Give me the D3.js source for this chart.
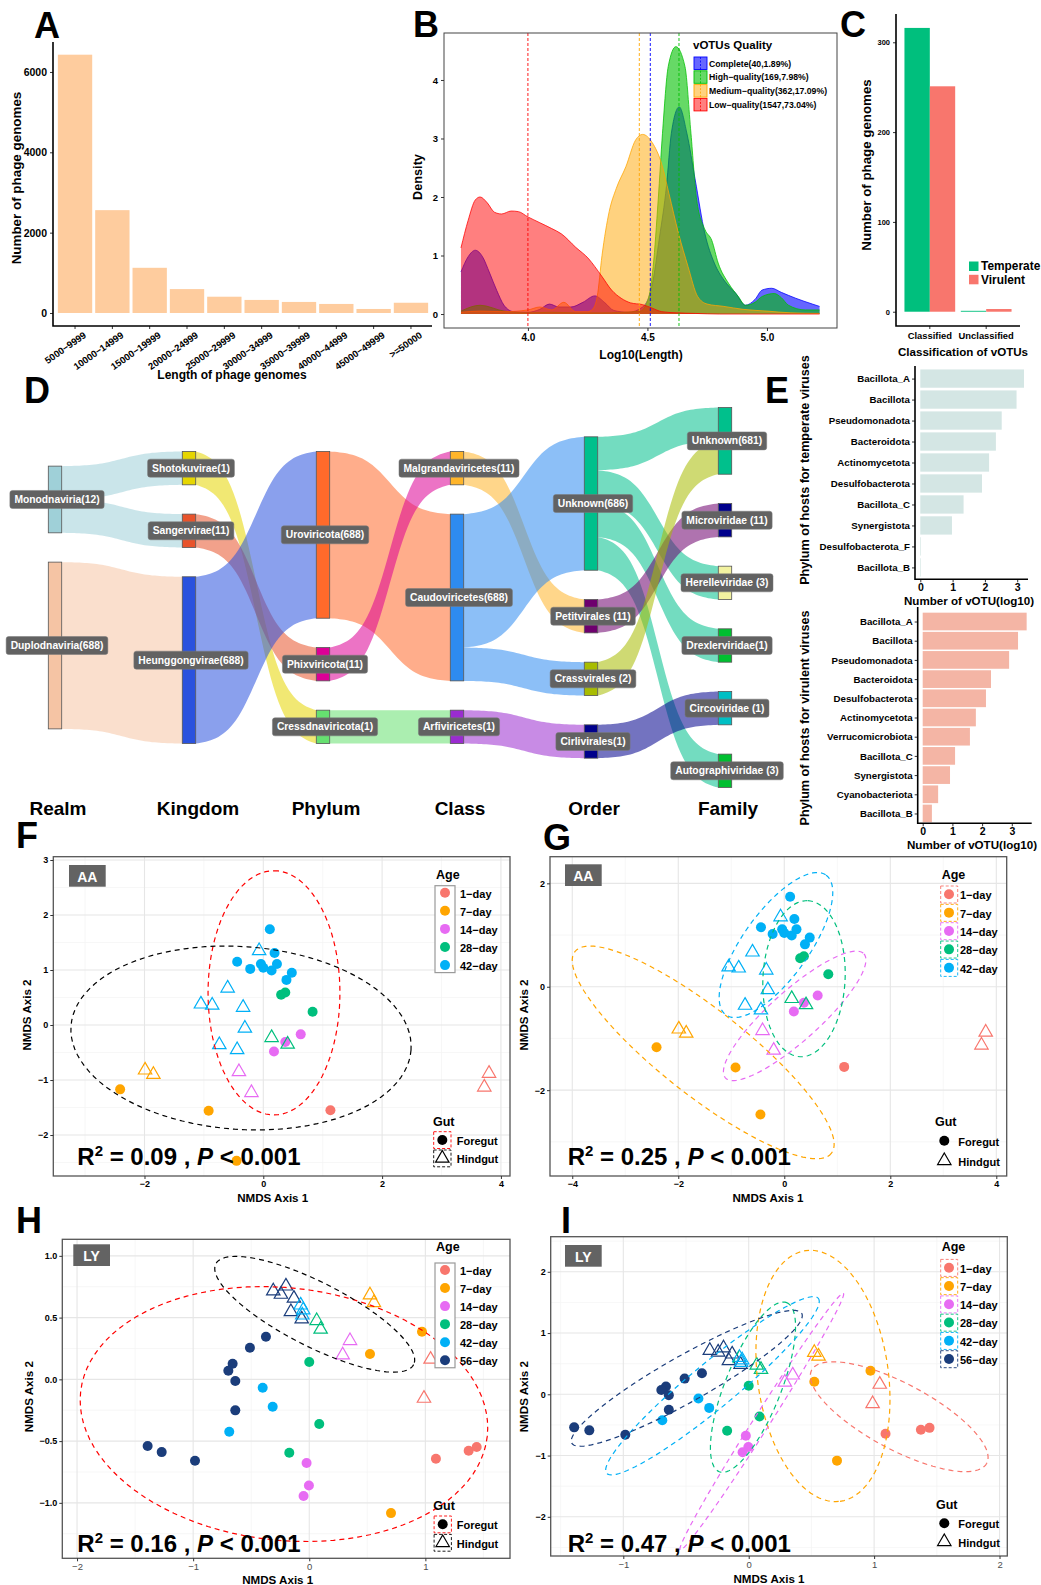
<!DOCTYPE html>
<html>
<head>
<meta charset="utf-8">
<script src="https://cdn.jsdelivr.net/npm/d3@7/dist/d3.min.js"></script>
<style>
html, body { margin: 0; padding: 0; background: #fff; }
svg text { font-family: "Liberation Sans", Arial, Helvetica, sans-serif; }
</style>
</head>
<body>
<svg id="fig" width="1041" height="1585" viewBox="0 0 1041 1585"></svg>
<script>
// ================= DATA =================
const MINUS = "\u2212";

// A: genome length distribution
const lengthBins = ["5000" + MINUS + "9999", "10000" + MINUS + "14999", "15000" + MINUS + "19999", "20000" + MINUS + "24999",
  "25000" + MINUS + "29999", "30000" + MINUS + "34999", "35000" + MINUS + "39999", "40000" + MINUS + "44999",
  "45000" + MINUS + "49999", ">=50000"];
const genomeCounts = [6430, 2560, 1125, 595, 405, 325, 275, 225, 100, 255];
const countTicks = [0, 2000, 4000, 6000];

// B: density of log10(length) by vOTU quality  [log10 length, density]
const qualityClasses = ["Complete(40,1.89%)", "High" + MINUS + "quality(169,7.98%)",
  "Medium" + MINUS + "quality(362,17.09%)", "Low" + MINUS + "quality(1547,73.04%)"];
const completeDensity = [[3.72,0.72],[3.75,0.98],[3.78,1.09],[3.81,0.98],[3.84,0.70],[3.87,0.40],[3.90,0.15],[3.94,0.04],
  [4.00,0.03],[4.05,0.08],[4.09,0.17],[4.13,0.12],[4.18,0.12],[4.23,0.20],[4.28,0.31],[4.32,0.20],[4.36,0.06],[4.42,0.03],
  [4.48,0.12],[4.52,0.50],[4.55,1.30],[4.58,2.20],[4.60,3.09],[4.633,3.54],[4.665,3.09],[4.70,2.29],[4.74,1.38],[4.78,0.87],
  [4.82,0.58],[4.87,0.35],[4.91,0.15],[4.95,0.25],[4.98,0.41],[5.02,0.44],[5.06,0.37],[5.12,0.27],[5.19,0.17],[5.22,0.13]];
const highDensity = [[3.72,0.05],[3.80,0.15],[3.90,0.05],[4.00,0.02],[4.10,0.03],[4.20,0.02],[4.30,0.02],[4.40,0.03],
  [4.47,0.05],[4.503,0.25],[4.524,0.81],[4.545,1.95],[4.563,3.09],[4.587,4.23],[4.619,4.57],[4.657,4.23],[4.682,3.09],
  [4.706,1.95],[4.741,1.44],[4.769,1.26],[4.796,0.87],[4.84,0.52],[4.88,0.30],[4.91,0.15],[4.95,0.20],[4.98,0.30],
  [5.03,0.35],[5.06,0.28],[5.09,0.15],[5.16,0.07],[5.22,0.07]];
const mediumDensity = [[3.72,0.03],[3.80,0.05],[3.90,0.04],[4.00,0.07],[4.05,0.12],[4.10,0.07],[4.15,0.20],[4.20,0.04],
  [4.25,0.04],[4.27,0.08],[4.29,0.30],[4.31,1.00],[4.34,1.75],[4.37,2.15],[4.41,2.52],[4.45,2.97],[4.48,3.07],[4.52,2.93],
  [4.56,2.56],[4.59,2.06],[4.63,1.38],[4.67,0.81],[4.71,0.30],[4.75,0.17],[4.82,0.13],[4.90,0.08],[5.00,0.05],[5.10,0.02],[5.22,0.01]];
const lowDensity = [[3.72,1.13],[3.75,1.60],[3.78,1.95],[3.80,2.00],[3.83,1.90],[3.86,1.74],[3.89,1.71],[3.93,1.76],
  [3.96,1.75],[4.00,1.66],[4.05,1.56],[4.10,1.46],[4.14,1.37],[4.20,1.14],[4.255,0.94],[4.28,0.81],[4.31,0.64],[4.35,0.41],
  [4.39,0.27],[4.43,0.19],[4.48,0.16],[4.52,0.10],[4.56,0.04],[4.62,0.02],[4.70,0.01],[4.80,0.0],[5.22,0.0]];
const qualityMeanLength = [4.512, 4.632, 4.466, 4.0];
const densityTicks = [0, 1, 2, 3, 4];
const lengthTicks = [4.0, 4.5, 5.0];

// C: lifestyle by classification
const classGroups = ["Classified", "Unclassified"];
const lifestyles = ["Temperate", "Virulent"];
const temperateCounts = [316, 1];
const virulentCounts = [251, 3];
const lifestyleTicks = [0, 100, 200, 300];

// D: taxonomy flows (Realm -> Family)
const sankeyStages = ["Realm", "Kingdom", "Phylum", "Class", "Order", "Family"];
const realmNodes = ["Monodnaviria(12)", "Duplodnaviria(688)"];
const kingdomNodes = ["Shotokuvirae(1)", "Sangervirae(11)", "Heunggongvirae(688)"];
const phylumNodes = ["Uroviricota(688)", "Phixviricota(11)", "Cressdnaviricota(1)"];
const classNodes = ["Malgrandaviricetes(11)", "Caudoviricetes(688)", "Arfiviricetes(1)"];
const orderNodes = ["Unknown(686)", "Petitvirales (11)", "Crassvirales (2)", "Cirlivirales(1)"];
const familyNodes = ["Unknown(681)", "Microviridae (11)", "Herelleviridae (3)", "Drexlerviridae(1)", "Circoviridae (1)", "Autographiviridae (3)"];
// each distinct lineage: node index at every rank
const lineages = [
  [1, 2, 0, 1, 0, 0],
  [1, 2, 0, 1, 0, 2],
  [1, 2, 0, 1, 0, 3],
  [1, 2, 0, 1, 0, 5],
  [1, 2, 0, 1, 2, 0],
  [0, 1, 1, 0, 1, 1],
  [0, 0, 2, 2, 3, 4]
];

// E: host phyla (log10 number of vOTUs)
const temperateHosts = ["Bacillota_A", "Bacillota", "Pseudomonadota", "Bacteroidota", "Actinomycetota", "Desulfobacterota",
  "Bacillota_C", "Synergistota", "Desulfobacterota_F", "Bacillota_B"];
const temperateLog10 = [3.21, 2.98, 2.52, 2.34, 2.13, 1.91, 1.34, 0.98, 0.02, 0.02];
const virulentHosts = ["Bacillota_A", "Bacillota", "Pseudomonadota", "Bacteroidota", "Desulfobacterota", "Actinomycetota",
  "Verrucomicrobiota", "Bacillota_C", "Synergistota", "Cyanobacteriota", "Bacillota_B"];
const virulentLog10 = [3.50, 3.21, 2.91, 2.30, 2.13, 1.79, 1.59, 1.09, 0.92, 0.52, 0.31];
const log10Ticks = [0, 1, 2, 3];

// F-I: NMDS ordinations  [age in days, NMDS1, NMDS2]
const aaAges = [1, 7, 14, 28, 42];
const lyAges = [1, 7, 14, 28, 42, 56];
const aaForegut = [
  [42,0.11,1.74],[42,0.19,1.31],[42,-0.44,1.15],[42,-0.22,1.02],[42,-0.04,1.11],[42,0.00,1.04],[42,0.14,0.99],[42,0.23,1.11],
  [42,0.48,0.95],[42,0.39,0.82],[28,0.30,0.55],[28,0.37,0.59],[28,0.83,0.24],[14,0.63,-0.17],[14,0.37,-0.31],[14,0.18,-0.48],
  [1,1.13,-1.55],[7,-2.41,-1.17],[7,-0.92,-1.56],[7,-0.45,-2.47]
];
const aaHindgut = [
  [42,-0.07,1.35],[42,-0.60,0.67],[42,-1.05,0.38],[42,-0.86,0.36],[42,-0.34,0.32],[42,-0.31,-0.06],[42,-0.74,-0.36],[42,-0.44,-0.45],
  [28,0.14,-0.23],[28,0.41,-0.35],[14,-0.41,-0.85],[14,-0.20,-1.23],[7,-1.99,-0.82],[7,-1.85,-0.90],[1,3.80,-0.88],[1,3.72,-1.13]
];
const lyForegut = [
  [56,-0.373,0.345],[56,-0.511,0.256],[56,-0.660,0.126],[56,-0.697,0.070],[56,-0.637,-0.014],[56,-0.637,-0.251],
  [56,-1.392,-0.540],[56,-1.271,-0.589],[56,-0.984,-0.659],[42,-0.401,-0.068],[42,-0.315,-0.222],[42,-0.689,-0.424],
  [28,0.000,0.140],[28,0.086,-0.362],[28,-0.172,-0.594],[14,-0.023,-0.678],[14,-0.003,-0.859],[14,-0.049,-0.945],
  [7,0.971,0.385],[7,0.523,0.205],[7,0.704,-1.083],[1,1.091,-0.643],[1,1.373,-0.578],[1,1.442,-0.548]
];
const lyHindgut = [
  [56,-0.310,0.715],[56,-0.201,0.755],[56,-0.244,0.688],[56,-0.132,0.656],[56,-0.158,0.547],[56,-0.065,0.488],
  [42,-0.074,0.601],[42,-0.052,0.561],[42,-0.060,0.520],[28,0.064,0.475],[28,0.098,0.405],[14,0.351,0.313],[14,0.288,0.197],
  [7,0.523,0.683],[7,0.557,0.620],[1,1.045,0.162],[1,0.988,-0.154]
];
// confidence ellipses: centre plus two conjugate semi-axes, in NMDS units
const aaGutEllipses = [
  { group: "Foregut", centre: [0.18, 0.585], axisU: [0, 2.22], axisV: [1.11, 0] },
  { group: "Hindgut", centre: [-0.375, -0.236], axisU: [2.862, -0.218], axisV: [-0.108, -1.658] }
];
const aaAgeEllipses = [
  { group: 7, centre: [-1.53, -1.27], axisU: [2.42, -1.95], axisV: [-0.50, -0.654] },
  { group: 14, centre: [0.196, -0.563], axisU: [1.307, 1.199], axisV: [0.315, -0.36] },
  { group: 28, centre: [0.372, 0.155], axisU: [0.075, 1.509], axisV: [0.774, -0.039] },
  { group: 42, centre: [-0.157, 0.807], axisU: [0.945, 1.352], axisV: [0.506, -0.371] }
];
const lyGutEllipses = [
  { group: "Foregut", centre: [-0.218, -0.281], axisU: [1.751, -0.181], axisV: [-0.12, -1.016] },
  { group: "Hindgut", centre: [0.047, 0.527], axisU: [0.852, -0.408], axisV: [-0.125, -0.231] }
];
const lyAgeEllipses = [
  { group: 1, centre: [1.2, -0.366], axisU: [0.698, -0.761], axisV: [-0.124, -0.475] },
  { group: 7, centre: [0.592, 0.299], axisU: [0.136, -2.047], axisV: [0.517, 0.143] },
  { group: 14, centre: [0.104, -0.447], axisU: [0.651, 2.096], axisV: [0.054, -0.07] },
  { group: 28, centre: [0.034, 0.116], axisU: [0.269, 1.38], axisV: [0.207, -0.17] },
  { group: 42, centre: [-0.289, 0.139], axisU: [0.844, 1.428], axisV: [0.114, -0.283] },
  { group: 56, centre: [-0.494, 0.261], axisU: [0.917, 1.06], axisV: [0.09, -0.327] }
];

// ================= STYLES =================
const qualityColours = ["#0000FF", "#00C000", "#FFA500", "#FF0000"];
const qualityOpacity = [0.6, 0.6, 0.5, 0.5];
const lifestyleColours = ["#00BF7D", "#F8766D"];
const nodeColours = [
  ["#9FD0D8", "#F5C4A4"],
  ["#E6D600", "#E8532B", "#2A52DE"],
  ["#FF6A2B", "#DC0096", "#66E070"],
  ["#FFB52A", "#2E8BF0", "#9A2BD0"],
  ["#00C08C", "#6E006E", "#A8BC00", "#00008C"],
  ["#00C08C", "#00008C", "#F2F2A0", "#00BF30", "#00BFC4", "#00BF30"]
];
const ageColours = { 1: "#F8766D", 7: "#FFA500", 14: "#E76BF3", 28: "#00BF7D", 42: "#00B0F6", 56: "#1B3D7B" };
const gutColours = { Foregut: "#FF0000", Hindgut: "#000000" };

// ================= HELPERS =================
const svg = d3.select("#fig");

function addText(g, x, y, str, o = {}) {
  const t = g.append("text").attr("x", x).attr("y", y).text(str)
    .attr("font-size", o.size || 10)
    .attr("font-weight", o.weight || "bold")
    .attr("fill", o.fill || "#000")
    .attr("text-anchor", o.anchor || "start")
    .attr("dominant-baseline", o.baseline || "central");
  if (o.rotate) t.attr("transform", `rotate(${o.rotate},${x},${y})`);
  return t;
}
function restyleAxis(ax, o = {}) {
  ax.attr("font-family", null).attr("font-size", null);
  ax.select(".domain").remove();
  ax.selectAll(".tick line").attr("stroke", o.tickColour || "#333").attr("stroke-width", 1);
  ax.selectAll(".tick text").attr("font-size", o.size || 9).attr("font-weight", o.weight || "bold")
    .attr("fill", o.fill || "#000");
}
const fmtInt = d3.format("d");
const fmtSigned = d => (d < 0 ? MINUS : "") + Math.abs(d);
const fmtSigned1 = d => (d < 0 ? MINUS : "") + Math.abs(d).toFixed(1);

// panel letters
[["A", 34, 38], ["B", 413, 37], ["C", 840, 37], ["D", 24, 403], ["E", 765, 403],
 ["F", 16, 848], ["G", 543, 850], ["H", 16, 1233], ["I", 561, 1233]].forEach(([s, x, y]) =>
  svg.append("text").attr("x", x).attr("y", y).text(s).attr("font-size", 36).attr("font-weight", "bold"));

// ================= PANEL A =================
(function () {
  const g = svg.append("g");
  const x = d3.scaleBand().domain(lengthBins).range([56, 430]).paddingInner(0.08).paddingOuter(0.05);
  const y = d3.scaleLinear().domain([-324, 6746]).range([326, 42]);
  g.selectAll("rect").data(lengthBins).join("rect")
    .attr("x", d => x(d)).attr("width", x.bandwidth())
    .attr("y", (d, i) => y(genomeCounts[i]))
    .attr("height", (d, i) => y(0) - y(genomeCounts[i]))
    .attr("fill", "#FECC9E");
  const ay = g.append("g").attr("transform", "translate(53,0)")
    .call(d3.axisLeft(y).tickValues(countTicks).tickFormat(fmtInt).tickSize(3).tickPadding(3));
  restyleAxis(ay, { size: 10.5 });
  const ax = g.append("g").attr("transform", "translate(0,326)")
    .call(d3.axisBottom(x).tickSize(3));
  restyleAxis(ax, { size: 9.5 });
  ax.selectAll(".tick text").attr("y", 0).attr("dy", "0.35em")
    .attr("transform", "translate(10,8) rotate(-35)").attr("text-anchor", "end");
  g.append("path").attr("d", "M53,42V326H432").attr("fill", "none").attr("stroke", "#000").attr("stroke-width", 1.6);
  addText(g, 232, 375, "Length of phage genomes", { size: 12, anchor: "middle" });
  addText(g, 16, 178, "Number of phage genomes", { size: 13.4, anchor: "middle", rotate: -90 });
})();

// ================= PANEL B =================
(function () {
  const g = svg.append("g");
  const x = d3.scaleLinear().domain([3.649, 5.293]).range([444, 837]);
  const y = d3.scaleLinear().domain([-0.239, 4.803]).range([328, 33]);
  const series = [completeDensity, highDensity, mediumDensity, lowDensity];
  const area = d3.area().x(d => x(d[0])).y0(y(0)).y1(d => y(d[1])).curve(d3.curveMonotoneX);
  const line = d3.line().x(d => x(d[0])).y(d => y(d[1])).curve(d3.curveMonotoneX);
  series.forEach((pts, i) => {
    g.append("path").attr("d", area(pts)).attr("fill", qualityColours[i]).attr("fill-opacity", qualityOpacity[i]);
    g.append("path").attr("d", line(pts)).attr("fill", "none").attr("stroke", qualityColours[i])
      .attr("stroke-width", 0.9).attr("stroke-opacity", 0.85);
  });
  qualityMeanLength.forEach((m, i) => {
    g.append("line").attr("x1", x(m)).attr("x2", x(m)).attr("y1", 33).attr("y2", 328)
      .attr("stroke", qualityColours[i]).attr("stroke-width", 0.9).attr("stroke-dasharray", "3,2");
  });
  g.append("rect").attr("x", 444).attr("y", 33).attr("width", 393).attr("height", 295)
    .attr("fill", "none").attr("stroke", "#444").attr("stroke-width", 1);
  const ay = g.append("g").attr("transform", "translate(444,0)")
    .call(d3.axisLeft(y).tickValues(densityTicks).tickFormat(fmtInt).tickSize(3).tickPadding(3));
  restyleAxis(ay, { size: 9.5 });
  const ax = g.append("g").attr("transform", "translate(0,328)")
    .call(d3.axisBottom(x).tickValues(lengthTicks).tickFormat(d3.format(".1f")).tickSize(3).tickPadding(3));
  restyleAxis(ax, { size: 10 });
  addText(g, 418, 177, "Density", { size: 12.7, anchor: "middle", rotate: -90 });
  addText(g, 641, 355, "Log10(Length)", { size: 12, anchor: "middle" });
  // legend
  addText(g, 693, 45, "vOTUs Quality", { size: 11.5 });
  qualityClasses.forEach((q, i) => {
    const ky = 57 + i * 13.8;
    g.append("rect").attr("x", 694).attr("y", ky).attr("width", 13).attr("height", 12.5)
      .attr("fill", qualityColours[i]).attr("fill-opacity", qualityOpacity[i])
      .attr("stroke", qualityColours[i]).attr("stroke-width", 0.9);
    g.append("line").attr("x1", 700.5).attr("x2", 700.5).attr("y1", ky).attr("y2", ky + 12.5)
      .attr("stroke", qualityColours[i]).attr("stroke-dasharray", "2,1.5").attr("stroke-width", 0.8);
    addText(g, 709, ky + 6.5, q, { size: 8.7 });
  });
})();

// ================= PANEL C =================
(function () {
  const g = svg.append("g");
  const x0 = d3.scaleBand().domain(classGroups).range([896, 1020]).paddingInner(0.1).paddingOuter(0.15);
  const x1 = d3.scaleBand().domain(lifestyles).range([0, x0.bandwidth()]);
  const y = d3.scaleLinear().domain([-15.9, 331.5]).range([326, 14]);
  const counts = [temperateCounts, virulentCounts];
  lifestyles.forEach((ls, j) => {
    classGroups.forEach((cg, i) => {
      g.append("rect").attr("x", x0(cg) + x1(ls)).attr("width", x1.bandwidth())
        .attr("y", y(counts[j][i])).attr("height", y(0) - y(counts[j][i]))
        .attr("fill", lifestyleColours[j]);
    });
  });
  const ay = g.append("g").attr("transform", "translate(896,0)")
    .call(d3.axisLeft(y).tickValues(lifestyleTicks).tickFormat(fmtInt).tickSize(3).tickPadding(3));
  restyleAxis(ay, { size: 7.5 });
  const ax = g.append("g").attr("transform", "translate(0,326)")
    .call(d3.axisBottom(x0).tickSize(3).tickPadding(3));
  restyleAxis(ax, { size: 9.4 });
  g.append("path").attr("d", "M896,14V326H1020").attr("fill", "none").attr("stroke", "#000").attr("stroke-width", 1.6);
  addText(g, 866, 165, "Number of phage genomes", { size: 13.3, anchor: "middle", rotate: -90 });
  addText(g, 963, 351, "Classification of vOTUs", { size: 11.6, anchor: "middle" });
  lifestyles.forEach((ls, j) => {
    g.append("rect").attr("x", 969).attr("y", 261.5 + j * 13.3).attr("width", 9.5).attr("height", 9.5)
      .attr("fill", lifestyleColours[j]);
    addText(g, 981, 266.3 + j * 13.3, ls, { size: 11.9 });
  });
})();

// ================= PANEL D =================
(function () {
  const g = svg.append("g");
  const stageNodes = [realmNodes, kingdomNodes, phylumNodes, classNodes, orderNodes, familyNodes];
  const colX = d3.scalePoint().domain(sankeyStages).range([55, 725]);
  const unit = d3.scaleLinear().domain([0, 1]).range([0, 33.35]);
  const gap = 29.3, midY = 597.5, nodeW = 13.4;
  const nodes = stageNodes.map((names, s) => {
    const weights = names.map((_, k) => lineages.filter(l => l[s] === k).length);
    const total = unit(d3.sum(weights)) + gap * (names.length - 1);
    let cursor = midY - total / 2;
    return names.map((name, k) => {
      const n = { s, k, name, x: colX(sankeyStages[s]), y0: cursor, y1: cursor + unit(weights[k]), colour: nodeColours[s][k] };
      n.outY = n.y0; n.inY = n.y0;
      cursor = n.y1 + gap;
      return n;
    });
  });
  const flows = [];
  for (let s = 0; s < sankeyStages.length - 1; s++) {
    const counts = d3.rollup(lineages, v => v.length, l => l[s], l => l[s + 1]);
    const list = [];
    counts.forEach((m, a) => m.forEach((w, b) => list.push({ a, b, w })));
    list.sort((p, q) => p.a - q.a || p.b - q.b).forEach(f => {
      const src = nodes[s][f.a];
      f.sy0 = src.outY; f.sy1 = src.outY + unit(f.w); src.outY = f.sy1;
    });
    list.slice().sort((p, q) => p.b - q.b || p.a - q.a).forEach(f => {
      const tg = nodes[s + 1][f.b];
      f.ty0 = tg.inY; f.ty1 = tg.inY + unit(f.w); tg.inY = f.ty1;
    });
    list.forEach(f => {
      f.x0 = nodes[s][f.a].x + nodeW / 2;
      f.x1 = nodes[s + 1][f.b].x - nodeW / 2;
      f.colour = nodes[s][f.a].colour;
      flows.push(f);
    });
  }
  const k = 8.5;
  const sgm = v => 1 / (1 + Math.exp(-k * (v - 0.5)));
  const sig = t => (sgm(t) - sgm(0)) / (sgm(1) - sgm(0));
  const lineGen = d3.line();
  flows.forEach(f => {
    const n = 48;
    const top = d3.range(n + 1).map(i => { const t = i / n; return [f.x0 + (f.x1 - f.x0) * t, f.sy0 + (f.ty0 - f.sy0) * sig(t)]; });
    const bot = d3.range(n + 1).map(i => { const t = 1 - i / n; return [f.x0 + (f.x1 - f.x0) * t, f.sy1 + (f.ty1 - f.sy1) * sig(t)]; });
    g.append("path").attr("d", lineGen(top.concat(bot)) + "Z").attr("fill", f.colour).attr("fill-opacity", 0.55);
  });
  nodes.flat().forEach(n => {
    g.append("rect").attr("x", n.x - nodeW / 2).attr("y", n.y0).attr("width", nodeW).attr("height", n.y1 - n.y0)
      .attr("fill", n.colour).attr("stroke", "#555").attr("stroke-width", 0.8);
  });
  nodes.flat().forEach(n => {
    const cx = n.x + 2, cy = (n.y0 + n.y1) / 2;
    const t = g.append("text").attr("x", cx).attr("y", cy).text(n.name)
      .attr("text-anchor", "middle").attr("dominant-baseline", "central")
      .attr("font-size", 10.3).attr("font-weight", "bold").attr("fill", "#fff");
    const w = t.node().getComputedTextLength() + 9;
    g.insert("rect", () => t.node()).attr("x", cx - w / 2).attr("y", cy - 9).attr("width", w).attr("height", 18)
      .attr("rx", 2.5).attr("fill", "#626262").attr("stroke", "#7a7a7a").attr("stroke-width", 0.5);
  });
  sankeyStages.forEach((s, i) => addText(g, colX(s) + (i === 1 ? 9 : 3), 808, s, { size: 19, anchor: "middle" }));
})();

// ================= PANEL E =================
function hostBars(hosts, values, o) {
  const g = svg.append("g");
  const y = d3.scalePoint().domain(hosts).range(o.yRange).padding(0.6);
  const x = d3.scaleLinear().domain(o.xDomain).range(o.xRange);
  g.selectAll("rect").data(hosts).join("rect")
    .attr("x", x(0)).attr("y", d => y(d) - o.barH / 2)
    .attr("width", (d, i) => Math.max(0, x(values[i]) - x(0))).attr("height", o.barH)
    .attr("fill", o.fill);
  const ay = g.append("g").attr("transform", `translate(${o.xRange[0]},0)`)
    .call(d3.axisLeft(y).tickSize(3).tickPadding(2));
  restyleAxis(ay, { size: 9.7 });
  const ax = g.append("g").attr("transform", `translate(0,${o.axisY})`)
    .call(d3.axisBottom(x).tickValues(log10Ticks).tickFormat(fmtInt).tickSize(3).tickPadding(1.5));
  restyleAxis(ax, { size: 10.5 });
  g.append("path").attr("d", `M${o.xRange[0]},${o.yTop}V${o.axisY}H${o.xRange[1]}`)
    .attr("fill", "none").attr("stroke", "#000").attr("stroke-width", 1.6);
  addText(g, o.titleX, o.axisY + 21, "Number of vOTU(log10)", { size: 11.6, anchor: "middle" });
  addText(g, 805, o.yTitleY, o.yTitle, { size: 12.6, anchor: "middle", rotate: -90 });
}
hostBars(temperateHosts, temperateLog10, {
  yRange: [366, 580], xDomain: [-0.164, 3.334], xRange: [915, 1028], axisY: 579.3, yTop: 366,
  barH: 18.3, fill: "#D4E6E4", titleX: 969, yTitle: "Phylum of hosts for temperate viruses", yTitleY: 470
});
hostBars(virulentHosts, virulentLog10, {
  yRange: [610, 825], xDomain: [-0.168, 3.67], xRange: [917.7, 1031.7], axisY: 823.3, yTop: 607,
  barH: 17.7, fill: "#F4B5A5", titleX: 972, yTitle: "Phylum of hosts for virulent viruses", yTitleY: 718
});

// ================= PANELS F-I =================
function nmdsPanel(c) {
  const g = svg.append("g");
  const x = d3.scaleLinear().domain(c.xDomain).range([c.left, c.right]);
  const y = d3.scaleLinear().domain(c.yDomain).range([c.bottom, c.top]);
  const W = c.right - c.left, H = c.bottom - c.top;
  g.append("rect").attr("x", c.left).attr("y", c.top).attr("width", W).attr("height", H).attr("fill", "#fff");
  c.xMinor.forEach(v => g.append("line").attr("x1", x(v)).attr("x2", x(v)).attr("y1", c.top).attr("y2", c.bottom)
    .attr("stroke", "#F3F3F3").attr("stroke-width", 0.7));
  c.yMinor.forEach(v => g.append("line").attr("y1", y(v)).attr("y2", y(v)).attr("x1", c.left).attr("x2", c.right)
    .attr("stroke", "#F3F3F3").attr("stroke-width", 0.7));
  c.xMajor.forEach(v => g.append("line").attr("x1", x(v)).attr("x2", x(v)).attr("y1", c.top).attr("y2", c.bottom)
    .attr("stroke", "#E6E6E6").attr("stroke-width", 1.1));
  c.yMajor.forEach(v => g.append("line").attr("y1", y(v)).attr("y2", y(v)).attr("x1", c.left).attr("x2", c.right)
    .attr("stroke", "#E6E6E6").attr("stroke-width", 1.1));

  const clipId = "clip" + c.id;
  svg.append("defs").append("clipPath").attr("id", clipId).append("rect")
    .attr("x", c.left).attr("y", c.top).attr("width", W).attr("height", H);
  const plot = g.append("g").attr("clip-path", `url(#${clipId})`);

  // points
  c.foregut.forEach(p => plot.append("circle").attr("cx", x(p[1])).attr("cy", y(p[2])).attr("r", 5)
    .attr("fill", ageColours[p[0]]));
  const tri = d3.symbol(d3.symbolTriangle, 78);
  c.hindgut.forEach(p => plot.append("path").attr("d", tri())
    .attr("transform", `translate(${x(p[1])},${y(p[2])})`)
    .attr("fill", "none").attr("stroke", ageColours[p[0]]).attr("stroke-width", 1.2));

  // ellipses
  const ell = d3.line().curve(d3.curveLinearClosed);
  c.ellipses.forEach(e => {
    const pts = d3.range(0, 100).map(i => {
      const t = i / 100 * 2 * Math.PI;
      return [x(e.centre[0] + e.axisU[0] * Math.cos(t) + e.axisV[0] * Math.sin(t)),
              y(e.centre[1] + e.axisU[1] * Math.cos(t) + e.axisV[1] * Math.sin(t))];
    });
    const col = c.ellipseBy === "gut" ? gutColours[e.group] : ageColours[e.group];
    plot.append("path").attr("d", ell(pts)).attr("fill", "none").attr("stroke", col)
      .attr("stroke-width", 1.2).attr("stroke-dasharray", "5,4");
  });

  g.append("rect").attr("x", c.left).attr("y", c.top).attr("width", W).attr("height", H)
    .attr("fill", "none").attr("stroke", "#555").attr("stroke-width", 1.3);

  // axes
  const ay = g.append("g").attr("transform", `translate(${c.left},0)`)
    .call(d3.axisLeft(y).tickValues(c.yMajor).tickFormat(c.yFormat).tickSize(3).tickPadding(2));
  restyleAxis(ay, { size: 9 });
  const ax = g.append("g").attr("transform", `translate(0,${c.bottom})`)
    .call(d3.axisBottom(x).tickValues(c.xMajor).tickFormat(fmtSigned).tickSize(3).tickPadding(2));
  restyleAxis(ax, c.xTickStyle);
  addText(g, c.yTitle[0], c.yTitle[1], "NMDS Axis 2", { size: 11.6, anchor: "middle", rotate: -90 });
  addText(g, c.xTitle[0], c.xTitle[1], "NMDS Axis 1", { size: 11.6, anchor: "middle" });

  // site tag
  g.append("rect").attr("x", c.tag[0]).attr("y", c.tag[1]).attr("width", 36.7).attr("height", 21.7).attr("fill", "#636363");
  addText(g, c.tag[0] + 18.3, c.tag[1] + 11.5, c.tagText, { size: 14, anchor: "middle", fill: "#fff" });

  // statistics
  const st = g.append("text").attr("x", c.stat[0]).attr("y", c.stat[1]).attr("font-size", 24).attr("font-weight", "bold");
  st.append("tspan").text("R");
  st.append("tspan").text("2").attr("font-size", 15).attr("dy", -9);
  st.append("tspan").text(" = " + c.r2 + " , ").attr("dy", 9);
  st.append("tspan").text("P").attr("font-style", "italic");
  st.append("tspan").text(" < 0.001");

  // age legend
  const L = c.legend;
  addText(g, L.ageTitle[0], L.ageTitle[1], "Age", { size: 12.5 });
  if (L.ageBox === "solid") {
    g.append("rect").attr("x", L.keyX - 10).attr("y", L.keyY0 - 7)
      .attr("width", 20).attr("height", (c.ages.length - 1) * L.keyStep + 14.5)
      .attr("fill", "#fff").attr("stroke", "#9a9a9a").attr("stroke-width", 1.2);
  }
  c.ages.forEach((a, i) => {
    const ky = L.keyY0 + i * L.keyStep;
    if (L.ageBox === "dashed") {
      g.append("rect").attr("x", L.keyX - 8.3).attr("y", ky - 8.3).attr("width", 17).attr("height", 17)
        .attr("fill", "#fff").attr("stroke", ageColours[a]).attr("stroke-width", 0.9).attr("stroke-dasharray", "3,2");
    }
    g.append("circle").attr("cx", L.keyX).attr("cy", ky).attr("r", 5).attr("fill", ageColours[a]);
    addText(g, L.labelX, ky + 1, a + MINUS + "day", { size: 11 });
  });
  // gut legend
  addText(g, L.gutTitle[0], L.gutTitle[1], "Gut", { size: 12.5 });
  ["Foregut", "Hindgut"].forEach((gt, i) => {
    const ky = L.gutY[i];
    if (L.gutBox) {
      g.append("rect").attr("x", L.gutKeyX - 8.6).attr("y", ky - 8.3).attr("width", 17.3).attr("height", 16.8)
        .attr("fill", "#fff").attr("stroke", gutColours[gt]).attr("stroke-width", 0.9).attr("stroke-dasharray", "3,2");
    }
    if (gt === "Foregut") {
      g.append("circle").attr("cx", L.gutKeyX).attr("cy", ky).attr("r", 5).attr("fill", "#000");
    } else {
      g.append("path").attr("d", tri()).attr("transform", `translate(${L.gutKeyX},${ky})`)
        .attr("fill", "none").attr("stroke", "#000").attr("stroke-width", 1.2);
    }
    addText(g, L.gutLabelX, ky + 1, gt, { size: 11 });
  });
}

const boldTicks = { size: 9 };
const greyTicks = { size: 9.5, weight: "normal", fill: "#4d4d4d" };

nmdsPanel({
  id: "F", left: 53.3, right: 510, top: 856.7, bottom: 1176,
  xDomain: [-3.535, 4.153], yDomain: [-2.745, 3.06],
  xMajor: [-2, 0, 2, 4], xMinor: [-3, -1, 1, 3], yMajor: [-2, -1, 0, 1, 2, 3], yMinor: [-2.5, -1.5, -0.5, 0.5, 1.5, 2.5],
  yFormat: fmtSigned, xTickStyle: boldTicks,
  foregut: aaForegut, hindgut: aaHindgut, ages: aaAges, ellipses: aaGutEllipses, ellipseBy: "gut",
  tag: [69, 865], tagText: "AA", stat: [77.3, 1165], r2: "0.09",
  yTitle: [26.7, 1015], xTitle: [272.7, 1197],
  legend: { ageTitle: [436, 875], keyX: 445, keyY0: 892.7, keyStep: 18.1, labelX: 460, ageBox: "solid",
            gutTitle: [433, 1121.7], gutKeyX: 442.3, gutY: [1140, 1158.3], gutLabelX: 456.7, gutBox: true }
});
nmdsPanel({
  id: "G", left: 550, right: 1006.7, top: 856.7, bottom: 1176,
  xDomain: [-4.42, 4.196], yDomain: [-3.66, 2.515],
  xMajor: [-4, -2, 0, 2, 4], xMinor: [-3, -1, 1, 3], yMajor: [-2, 0, 2], yMinor: [-3, -1, 1],
  yFormat: fmtSigned, xTickStyle: boldTicks,
  foregut: aaForegut, hindgut: aaHindgut, ages: aaAges, ellipses: aaAgeEllipses, ellipseBy: "age",
  tag: [565, 864.3], tagText: "AA", stat: [567.7, 1165], r2: "0.25",
  yTitle: [523.3, 1015], xTitle: [768, 1197],
  legend: { ageTitle: [941.7, 875], keyX: 949, keyY0: 894.3, keyStep: 18.35, labelX: 960, ageBox: "dashed",
            gutTitle: [935, 1121.7], gutKeyX: 944.3, gutY: [1140.7, 1160.7], gutLabelX: 958.3, gutBox: false }
});
nmdsPanel({
  id: "H", left: 62.3, right: 510, top: 1239.3, bottom: 1558.3,
  xDomain: [-2.127, 1.729], yDomain: [-1.449, 1.134],
  xMajor: [-2, -1, 0, 1], xMinor: [-1.5, -0.5, 0.5, 1.5], yMajor: [-1, -0.5, 0, 0.5, 1],
  yMinor: [-1.25, -0.75, -0.25, 0.25, 0.75],
  yFormat: fmtSigned1, xTickStyle: greyTicks,
  foregut: lyForegut, hindgut: lyHindgut, ages: lyAges, ellipses: lyGutEllipses, ellipseBy: "gut",
  tag: [73.3, 1244.3], tagText: "LY", stat: [77.3, 1551.7], r2: "0.16",
  yTitle: [28.3, 1396.7], xTitle: [277.7, 1579.3],
  legend: { ageTitle: [436, 1247.3], keyX: 445, keyY0: 1270, keyStep: 18.05, labelX: 460, ageBox: "solid",
            gutTitle: [433.3, 1506], gutKeyX: 442.7, gutY: [1524.3, 1542.7], gutLabelX: 456.7, gutBox: true }
});
nmdsPanel({
  id: "I", left: 550.7, right: 1007.3, top: 1236.7, bottom: 1556,
  xDomain: [-1.579, 2.062], yDomain: [-2.64, 2.573],
  xMajor: [-1, 0, 1, 2], xMinor: [-1.5, -0.5, 0.5, 1.5], yMajor: [-2, -1, 0, 1, 2],
  yMinor: [-2.5, -1.5, -0.5, 0.5, 1.5, 2.5],
  yFormat: fmtSigned, xTickStyle: greyTicks,
  foregut: lyForegut, hindgut: lyHindgut, ages: lyAges, ellipses: lyAgeEllipses, ellipseBy: "age",
  tag: [565, 1245], tagText: "LY", stat: [567.7, 1551.7], r2: "0.47",
  yTitle: [523.3, 1396.7], xTitle: [769, 1578.3],
  legend: { ageTitle: [941.7, 1247.3], keyX: 949, keyY0: 1267.7, keyStep: 18.26, labelX: 960, ageBox: "dashed",
            gutTitle: [936, 1505], gutKeyX: 944.3, gutY: [1523.3, 1541.7], gutLabelX: 958.3, gutBox: false }
});
</script>
</body>
</html>
